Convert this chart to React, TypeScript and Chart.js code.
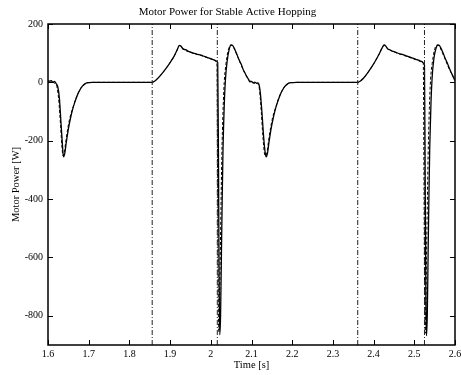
import { useEffect, useRef } from "react";
import { Chart, registerables } from "chart.js";

Chart.register(...registerables);

// Measured motor power (solid trace)
const measuredTime = [
  1.6, 1.604, 1.608, 1.612, 1.616, 1.62, 1.624, 1.628, 1.632, 1.6355, 1.638, 1.641, 1.645, 1.65, 1.655,
  1.66, 1.665, 1.67, 1.675, 1.68, 1.685, 1.69, 1.695, 1.7, 1.71, 1.856, 1.862, 1.87, 1.88, 1.89, 1.9,
  1.91, 1.917, 1.923, 1.927, 1.932, 1.938, 1.945, 1.952, 1.96, 1.968, 1.976, 1.984, 1.992, 2.0, 2.008,
  2.014, 2.017, 2.019, 2.0205, 2.022, 2.024, 2.026, 2.028, 2.03, 2.033, 2.036, 2.04, 2.045, 2.05, 2.054,
  2.058, 2.063, 2.068, 2.072, 2.076, 2.08, 2.084, 2.088, 2.092, 2.096, 2.1, 2.104, 2.108, 2.112, 2.116,
  2.119, 2.122, 2.126, 2.13, 2.1335, 2.136, 2.139, 2.143, 2.148, 2.153, 2.158, 2.163, 2.168, 2.173,
  2.178, 2.183, 2.188, 2.193, 2.2, 2.21, 2.361, 2.367, 2.375, 2.385, 2.395, 2.405, 2.414, 2.421, 2.426,
  2.43, 2.435, 2.441, 2.448, 2.456, 2.464, 2.472, 2.48, 2.488, 2.496, 2.504, 2.512, 2.519, 2.523, 2.525,
  2.527, 2.5285, 2.53, 2.532, 2.534, 2.536, 2.538, 2.541, 2.544, 2.548, 2.553, 2.558, 2.562, 2.566,
  2.571, 2.576, 2.58, 2.584, 2.588, 2.592, 2.596, 2.6,
];
const measuredPower = [
  6, 4, 6, 1, 3, -4, -15, -55, -140, -215, -255, -245, -205, -160, -125,
  -95, -72, -52, -35, -22, -12, -6, -2, -1, 0, 0, 4, 14, 30, 48, 68,
  90, 110, 127, 124, 114, 112, 106, 103, 99, 96, 93, 89, 85, 81, 77,
  73, 68, -300, -700, -865, -800, -600, -400, -230, -80, 10, 70, 112, 128, 126,
  116, 100, 82, 70, 58, 42, 32, 20, 12, 2, 3, -2, 1, -3, -2,
  -10, -40, -110, -190, -240, -255, -245, -205, -160, -125, -95, -72, -52, -35,
  -22, -12, -6, -2, -1, 0, 0, 4, 14, 32, 52, 75, 98, 118, 128,
  124, 114, 111, 106, 102, 98, 95, 91, 87, 83, 79, 75, 71, 66, 60,
  -400, -750, -868, -790, -580, -380, -220, -70, 20, 80, 115, 128, 126, 116,
  100, 82, 70, 56, 42, 30, 18, 6,
];

// Simulated motor power (dashed trace)
const modelTime = [
  1.6, 1.605, 1.61, 1.615, 1.62, 1.623, 1.627, 1.631, 1.634, 1.637, 1.64, 1.644, 1.649, 1.654, 1.66,
  1.665, 1.67, 1.675, 1.68, 1.685, 1.69, 1.695, 1.7, 1.71, 1.856, 1.862, 1.87, 1.88, 1.89, 1.9, 1.91,
  1.917, 1.922, 1.926, 1.931, 1.937, 1.944, 1.952, 1.96, 1.968, 1.976, 1.984, 1.992, 2.0, 2.008, 2.013,
  2.015, 2.017, 2.0185, 2.0195, 2.021, 2.023, 2.025, 2.027, 2.03, 2.033, 2.037, 2.042, 2.048, 2.053,
  2.058, 2.063, 2.068, 2.073, 2.078, 2.083, 2.088, 2.093, 2.098, 2.103, 2.108, 2.113, 2.117, 2.12, 2.124,
  2.128, 2.1315, 2.134, 2.138, 2.142, 2.147, 2.152, 2.158, 2.163, 2.168, 2.173, 2.178, 2.183, 2.188,
  2.193, 2.2, 2.21, 2.361, 2.367, 2.375, 2.385, 2.395, 2.405, 2.414, 2.42, 2.425, 2.429, 2.434, 2.44,
  2.447, 2.455, 2.463, 2.471, 2.479, 2.487, 2.495, 2.503, 2.511, 2.518, 2.522, 2.524, 2.5255, 2.527,
  2.528, 2.53, 2.532, 2.534, 2.537, 2.54, 2.544, 2.549, 2.555, 2.56, 2.565, 2.57, 2.575, 2.58, 2.585,
  2.59, 2.595, 2.6,
];
const modelPower = [
  2, 0, 2, -2, -8, -22, -70, -150, -215, -252, -240, -200, -155, -120, -92,
  -70, -50, -34, -21, -12, -6, -2, -1, 0, 0, 4, 14, 30, 48, 68, 90,
  110, 126, 125, 117, 110, 106, 102, 98, 95, 92, 88, 84, 80, 76, 72,
  70, -400, -780, -855, -820, -620, -430, -260, -100, 0, 60, 105, 127, 126,
  114, 98, 82, 64, 48, 34, 22, 10, 4, 0, -4, -2, -8, -30, -100,
  -185, -240, -252, -240, -200, -155, -120, -92, -70, -50, -34, -21, -12, -6,
  -2, -1, 0, 0, 4, 14, 32, 52, 75, 98, 116, 127, 125, 116, 110,
  106, 102, 98, 94, 90, 86, 82, 78, 74, 70, 66, -380, -760, -860, -800,
  -600, -420, -250, -90, 10, 65, 108, 127, 126, 114, 98, 82, 64, 48,
  34, 20, 8,
];

// Touchdown / lift-off instants
const eventTimes = [1.856, 2.016, 2.361, 2.525];

const xTicks = [1.6, 1.7, 1.8, 1.9, 2.0, 2.1, 2.2, 2.3, 2.4, 2.5, 2.6];
const yTicks = [-800, -600, -400, -200, 0, 200];
const xRange = [1.6, 2.6];
const yRange = [-900, 200];

const serif = "'Liberation Serif', 'Times New Roman', serif";

const toPoints = (xs: number[], ys: number[]) => xs.map((x, i) => ({ x, y: ys[i] }));

const eventPoints = () => {
  const pts: { x: number; y: number | null }[] = [];
  for (const t of eventTimes) {
    pts.push({ x: t, y: yRange[0] }, { x: t, y: yRange[1] }, { x: t, y: null });
  }
  return pts;
};

// Box frame with inward-pointing ticks on all four sides
const framePlugin = {
  id: "frame",
  afterDatasetsDraw(chart: any) {
    const { ctx, chartArea, scales } = chart;
    const { left, right, top, bottom } = chartArea;
    const len = 5;
    ctx.save();
    ctx.strokeStyle = "#000";
    ctx.lineWidth = 1;
    ctx.beginPath();
    for (const v of xTicks) {
      const px = Math.round(scales.x.getPixelForValue(v)) + 0.5;
      ctx.moveTo(px, bottom);
      ctx.lineTo(px, bottom - len);
      ctx.moveTo(px, top);
      ctx.lineTo(px, top + len);
    }
    for (const v of yTicks) {
      const py = Math.round(scales.y.getPixelForValue(v)) + 0.5;
      ctx.moveTo(left, py);
      ctx.lineTo(left + len, py);
      ctx.moveTo(right, py);
      ctx.lineTo(right - len, py);
    }
    ctx.stroke();
    ctx.lineWidth = 1.5;
    ctx.strokeRect(left, top, right - left, bottom - top);
    ctx.restore();
  },
};

export default function App() {
  const canvasRef = useRef<HTMLCanvasElement | null>(null);

  useEffect(() => {
    const canvas = canvasRef.current;
    if (!canvas) return;
    const chart = new Chart(canvas, {
      type: "line",
      data: {
        datasets: [
          {
            label: "events",
            data: eventPoints(),
            borderColor: "#222",
            borderWidth: 1,
            borderDash: [5, 2, 1, 2],
            pointRadius: 0,
            spanGaps: false,
          },
          {
            label: "model",
            data: toPoints(modelTime, modelPower),
            borderColor: "#000",
            borderWidth: 1,
            borderDash: [3, 2],
            pointRadius: 0,
            cubicInterpolationMode: "monotone",
          },
          {
            label: "measured",
            data: toPoints(measuredTime, measuredPower),
            borderColor: "#000",
            borderWidth: 1.3,
            pointRadius: 0,
            cubicInterpolationMode: "monotone",
          },
        ],
      },
      options: {
        responsive: false,
        animation: false,
        layout: { padding: { top: 0, right: 6, bottom: 0, left: 0 } },
        plugins: {
          legend: { display: false },
          tooltip: { enabled: false },
          title: {
            display: true,
            text: "Motor Power for Stable Active Hopping",
            color: "#000",
            font: { family: serif, size: 11, weight: "normal" },
            padding: { top: 5.4, bottom: 5.4 },
          },
        },
        scales: {
          x: {
            type: "linear",
            min: xRange[0],
            max: xRange[1],
            grid: { display: false, drawTicks: false },
            border: { display: false },
            afterBuildTicks: (s: any) => {
              s.ticks = xTicks.map((value) => ({ value }));
            },
            afterFit: (s: any) => {
              s.height = 30;
              s.paddingLeft = 0;
              s.paddingRight = 0;
            },
            ticks: {
              color: "#000",
              font: { family: serif, size: 10 },
              padding: 3,
              maxRotation: 0,
              autoSkip: false,
              callback: (v: any) => String(Math.round(Number(v) * 10) / 10),
            },
            title: {
              display: true,
              text: "Time [s]",
              color: "#000",
              font: { family: serif, size: 10.5 },
              padding: { top: 0, bottom: 3.5 },
            },
          },
          y: {
            type: "linear",
            min: yRange[0],
            max: yRange[1],
            grid: { display: false, drawTicks: false },
            border: { display: false },
            afterBuildTicks: (s: any) => {
              s.ticks = yTicks.map((value) => ({ value }));
            },
            afterFit: (s: any) => {
              s.width = 48;
              s.paddingTop = 0;
              s.paddingBottom = 0;
            },
            ticks: {
              color: "#000",
              font: { family: serif, size: 10 },
              padding: 5,
              autoSkip: false,
              callback: (v: any) => String(v),
            },
            title: {
              display: true,
              text: "Motor Power [W]",
              color: "#000",
              font: { family: serif, size: 10.5 },
              padding: { top: 10, bottom: 0 },
            },
          },
        },
      },
      plugins: [framePlugin],
    });
    return () => chart.destroy();
  }, []);

  return (
    <div style={{ position: "absolute", left: 0, top: 0, width: 461, height: 375, background: "#fff" }}>
      <canvas ref={canvasRef} width={461} height={375} style={{ display: "block" }} />
    </div>
  );
}
